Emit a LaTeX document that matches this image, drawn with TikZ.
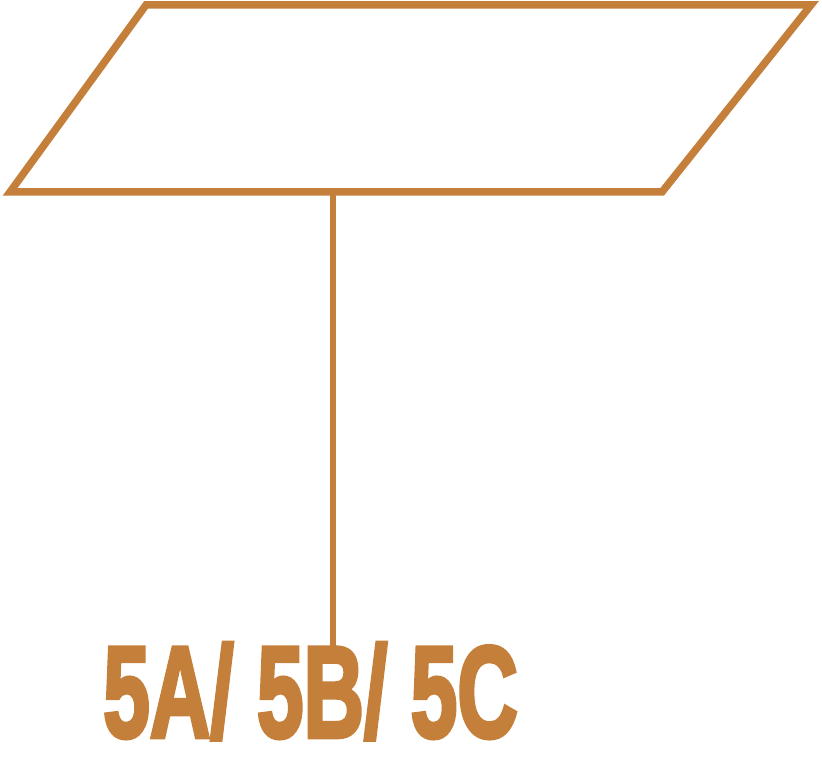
\documentclass[tikz,border=0pt]{standalone}
\usepackage{fontspec}
\newfontfamily\lblfont[FakeBold=3.5]{Liberation Sans Bold}
\definecolor{ochre}{RGB}{196,127,58}
\begin{document}
\begin{tikzpicture}[x=1pt,y=-1pt,
  frame/.style={draw=ochre,line width=7.5pt,line join=miter},
  stem/.style={draw=ochre,line width=6pt},
  lbl/.style={text=ochre,inner sep=0pt,anchor=base west,font=\lblfont\fontsize{130}{130}\selectfont}]
\useasboundingbox (0,0) rectangle (822,778);
\coordinate (tl) at (146,5);
\coordinate (tr) at (811,5);
\coordinate (br) at (662,192);
\coordinate (bl) at (10,192);
\draw[frame] (tl) -- (tr) -- (br) -- (bl) -- cycle;
\coordinate (top) at (333,192);
\coordinate (bot) at (333,655);
\draw[stem] (top) -- (bot);
\node[lbl] (label) at (103,737) {\scalebox{0.645}[1]{5A/ 5B/ 5C}};
\end{tikzpicture}
\end{document}
